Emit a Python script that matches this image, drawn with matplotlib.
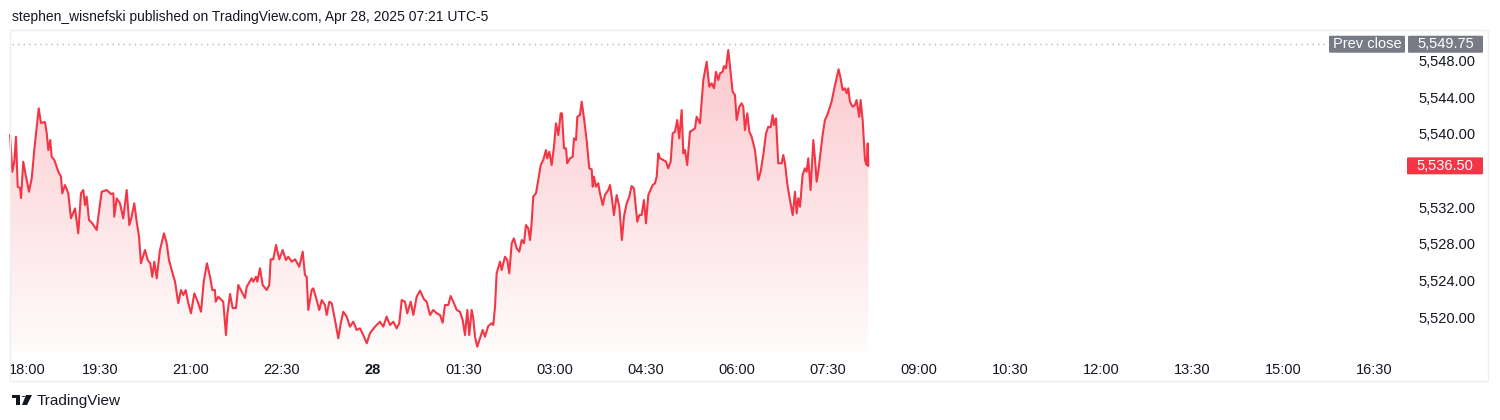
import matplotlib.pyplot as plt
import numpy as np
from matplotlib.patches import Rectangle, Polygon, Circle, FancyBboxPatch

# minutes after 18:00 (Apr 27) and traded price
minutes = [
    1.0, 3.3, 5.2, 6.9, 8.6, 10.9, 11.9, 14.1, 16.5, 19.8, 22.5, 25.0, 27.4, 29.4, 31.6, 35.6,
    37.3, 38.9, 40.8, 42.2, 44.8, 48.8, 51.4, 52.7, 55.4, 58.6, 61.3, 65.3, 68.5, 71.2, 73.5, 75.2,
    76.8, 79.1, 82.4, 86.7, 89.0, 91.7, 96.6, 100.9, 103.2, 104.1, 106.5, 109.8, 113.0, 116.4, 119.0, 121.3,
    123.9, 126.3, 128.6, 130.5, 134.5, 137.2, 139.7, 141.7, 143.7, 146.1, 149.3, 153.3, 156.0, 158.2, 160.9, 164.2,
    167.4, 170.1, 172.4, 174.8, 177.3, 180.0, 183.3, 186.6, 189.9, 192.6, 195.8, 198.8, 201.1, 203.7, 204.4, 207.0,
    211.9, 214.6, 215.9, 218.6, 221.2, 224.5, 226.8, 230.1, 233.4, 235.1, 240.0, 241.6, 244.3, 245.6, 248.2, 250.9,
    254.9, 257.4, 258.8, 261.4, 264.1, 267.3, 270.7, 273.9, 276.2, 279.6, 282.9, 287.1, 290.5, 292.7, 294.4, 296.0,
    299.4, 301.0, 304.3, 306.9, 309.3, 312.5, 314.2, 316.8, 319.2, 322.4, 325.7, 328.1, 330.6, 334.0, 337.2, 340.5,
    343.9, 347.1, 350.4, 353.8, 357.0, 362.0, 366.9, 370.2, 373.5, 376.8, 380.1, 383.4, 386.0, 388.4, 391.6, 393.9,
    397.3, 399.9, 403.2, 406.5, 410.4, 413.1, 416.4, 419.6, 423.0, 426.3, 428.9, 431.2, 434.5, 436.8, 439.4, 442.8,
    446.0, 448.7, 451.0, 453.3, 455.2, 457.6, 459.2, 460.9, 463.1, 465.8, 468.5, 470.8, 474.0, 477.4, 479.0, 480.7,
    482.3, 485.6, 487.3, 490.5, 492.8, 494.8, 497.2, 499.4, 502.1, 504.7, 507.1, 509.3, 511.3, 513.6, 515.3, 516.9,
    518.5, 521.2, 523.5, 525.9, 528.4, 531.1, 532.4, 534.4, 536.7, 539.0, 541.0, 543.3, 545.6, 546.9, 548.9, 550.9,
    552.1, 554.8, 557.5, 558.8, 560.8, 562.1, 564.7, 566.4, 568.7, 571.3, 573.9, 576.3, 577.3, 578.6, 580.5, 582.8,
    584.5, 587.2, 589.4, 592.7, 594.4, 596.1, 598.3, 601.0, 603.6, 606.2, 608.2, 610.9, 613.5, 615.8, 618.1, 621.4,
    623.4, 625.7, 628.0, 630.0, 632.3, 636.6, 638.9, 640.6, 642.2, 643.8, 647.1, 649.8, 652.0, 654.4, 656.4, 658.7,
    660.9, 662.9, 665.3, 666.9, 668.6, 670.8, 673.5, 676.2, 678.5, 680.1, 683.4, 686.7, 690.0, 692.6, 695.0, 697.3,
    699.2, 701.5, 703.2, 705.8, 707.1, 709.1, 711.4, 713.1, 715.7, 718.0, 719.7, 722.3, 724.6, 726.2, 727.9, 730.2,
    732.2, 734.5, 737.8, 741.1, 743.4, 746.0, 748.7, 751.0, 753.3, 755.3, 756.6, 758.6, 760.8, 764.2, 765.8, 767.5,
    769.7, 772.4, 775.1, 777.4, 779.0, 780.6, 782.3, 784.9, 787.2, 788.9, 790.5, 792.8, 795.5, 797.1, 798.8, 800.4,
    802.8, 804.7, 807.0, 809.3, 811.9, 813.6, 815.9, 818.5, 820.5, 822.5, 824.5, 826.8, 828.5, 830.1, 831.7, 834.4,
    836.7, 838.3, 840.9, 842.3, 844.3, 846.6, 848.3, 849.3, 849.9,
]
prices = [
    5539.86, 5535.86, 5536.95, 5539.67, 5534.23, 5534.09, 5533.00, 5536.95, 5535.50, 5533.68, 5535.17, 5538.22, 5540.76, 5542.77, 5541.17, 5541.27,
    5540.08, 5538.22, 5539.31, 5537.49, 5537.14, 5535.86, 5535.32, 5533.51, 5534.41, 5533.51, 5530.78, 5531.87, 5529.15, 5533.51, 5533.87, 5532.23,
    5533.14, 5530.60, 5530.24, 5529.51, 5531.50, 5533.68, 5533.87, 5533.43, 5533.51, 5530.96, 5532.96, 5532.42, 5530.78, 5533.87, 5530.05, 5530.96,
    5532.42, 5530.41, 5528.78, 5525.88, 5527.33, 5526.24, 5525.88, 5524.42, 5526.06, 5524.25, 5527.33, 5529.15, 5528.06, 5526.24, 5525.15, 5523.88,
    5521.53, 5522.97, 5522.43, 5522.97, 5521.53, 5520.44, 5522.61, 5521.70, 5520.61, 5523.88, 5525.88, 5524.42, 5522.97, 5522.97, 5521.70, 5522.24,
    5521.70, 5518.07, 5520.25, 5522.54, 5521.01, 5521.01, 5523.52, 5522.79, 5522.10, 5523.33, 5524.25, 5523.88, 5524.42, 5523.88, 5525.34, 5523.52,
    5522.97, 5523.52, 5526.32, 5526.32, 5527.88, 5526.32, 5527.33, 5526.24, 5526.60, 5526.06, 5526.32, 5525.51, 5527.15, 5524.61, 5524.42, 5520.80,
    5522.97, 5523.16, 5521.88, 5520.80, 5521.88, 5521.34, 5520.25, 5521.70, 5521.53, 5519.71, 5517.71, 5519.35, 5520.61, 5520.07, 5518.98, 5519.52,
    5518.62, 5518.80, 5518.07, 5517.17, 5518.26, 5518.98, 5519.52, 5518.98, 5520.07, 5519.16, 5519.52, 5518.80, 5519.35, 5521.88, 5521.70, 5520.44,
    5521.70, 5520.25, 5522.24, 5522.90, 5521.96, 5521.70, 5520.25, 5520.80, 5520.44, 5520.25, 5519.41, 5521.34, 5521.34, 5522.32, 5521.70, 5520.80,
    5520.61, 5519.71, 5518.07, 5520.80, 5518.07, 5520.80, 5519.89, 5517.89, 5516.80, 5517.71, 5518.62, 5517.89, 5519.05, 5519.35, 5519.16, 5521.15,
    5524.79, 5526.06, 5525.15, 5526.60, 5526.24, 5524.79, 5528.06, 5528.61, 5527.52, 5527.15, 5528.42, 5528.06, 5530.05, 5529.69, 5528.42, 5530.24,
    5533.14, 5533.51, 5534.96, 5536.59, 5537.14, 5538.22, 5537.32, 5538.04, 5536.59, 5538.58, 5541.13, 5539.86, 5542.22, 5542.22, 5538.41, 5538.41,
    5536.78, 5537.32, 5537.49, 5539.50, 5539.31, 5541.85, 5542.04, 5543.49, 5541.68, 5539.31, 5536.23, 5536.12, 5534.23, 5535.32, 5534.23, 5534.60,
    5533.51, 5532.23, 5533.32, 5533.87, 5534.41, 5533.14, 5531.14, 5533.32, 5532.05, 5528.42, 5530.96, 5532.42, 5533.14, 5534.30, 5534.05, 5530.41,
    5531.14, 5531.14, 5532.78, 5530.24, 5533.32, 5534.41, 5534.60, 5535.32, 5537.86, 5537.32, 5537.14, 5536.95, 5536.23, 5536.95, 5540.04, 5540.22,
    5541.49, 5539.50, 5542.58, 5537.86, 5538.22, 5536.59, 5540.22, 5540.40, 5540.59, 5541.85, 5541.13, 5545.85, 5547.84, 5545.12, 5545.49, 5544.95,
    5546.75, 5545.85, 5546.58, 5546.75, 5547.37, 5547.12, 5549.12, 5547.30, 5544.58, 5544.22, 5541.49, 5542.94, 5543.31, 5542.94, 5540.40, 5542.22,
    5540.22, 5539.67, 5538.22, 5534.96, 5535.86, 5537.68, 5540.04, 5540.76, 5540.70, 5542.04, 5540.95, 5541.68, 5536.78, 5536.78, 5537.68, 5536.78,
    5534.60, 5532.78, 5531.14, 5533.68, 5531.33, 5532.96, 5532.05, 5535.50, 5536.23, 5535.86, 5537.32, 5533.87, 5539.31, 5537.32, 5534.77, 5535.86,
    5538.04, 5539.86, 5541.49, 5542.04, 5542.94, 5543.49, 5544.76, 5546.03, 5547.02, 5546.03, 5544.76, 5544.95, 5544.40, 5544.95, 5543.49, 5542.94,
    5543.13, 5543.67, 5541.85, 5543.67, 5541.49, 5537.14, 5536.59, 5538.95, 5536.50,
]
assert len(minutes) == len(prices), (len(minutes), len(prices))

prev_close = 5549.75
last_price = 5536.50
price_ticks = [5520, 5524, 5528, 5532, 5540, 5544, 5548]
time_ticks = list(range(0, 1381, 90))
time_labels = ["18:00", "19:30", "21:00", "22:30", "28", "01:30", "03:00", "04:30",
               "06:00", "07:30", "09:00", "10:30", "12:00", "13:30", "15:00", "16:30"]

W, H = 1500, 420
RED = "#F23645"
TXT = "#131722"
plt.rcParams["font.family"] = ["Liberation Sans", "DejaVu Sans"]

fig = plt.figure(figsize=(W / 100, H / 100), dpi=100)
fig.patch.set_facecolor("white")
ax = fig.add_axes([9 / W, 68 / H, 1396 / W, 322 / H])
ax.set_xlim(0, 1380.7)
ax.set_ylim(5516.22, 5551.30)
for s in ax.spines.values():
    s.set_visible(False)

t = np.array(minutes)
p = np.array(prices)
ybot = ax.get_ylim()[0]

# gradient area under the line
poly = ax.fill_between(t, p, ybot, facecolor="none", edgecolor="none")
grad = np.zeros((256, 1, 4))
grad[:, 0, 0] = 242 / 255
grad[:, 0, 1] = 54 / 255
grad[:, 0, 2] = 69 / 255
grad[:, 0, 3] = np.linspace(0.02, 0.27, 256)
img = ax.imshow(grad, extent=[t.min(), t.max(), ybot, p.max()], aspect="auto",
                origin="lower", zorder=1)
img.set_clip_path(poly.get_paths()[0], transform=ax.transData)
ax.plot(t, p, color=RED, lw=1.5, zorder=3, solid_joinstyle="round")

# previous close dotted line
ax.axhline(prev_close, xmin=3 / 1396, xmax=(1329 - 9) / 1396, color="#b2b5be",
           lw=1, linestyle=(0, (1, 3)), zorder=2)

ax.set_xticks(time_ticks)
ax.set_xticklabels(time_labels)
ax.tick_params(axis="x", length=0, pad=8, labelsize=10.5, labelcolor=TXT)
for lab in ax.get_xticklabels():
    if lab.get_text() == "28":
        lab.set_fontweight("bold")
ax.get_xticklabels()[0].set_ha("left")

ax.yaxis.tick_right()
ax.set_yticks(price_ticks)
ax.set_yticklabels([f"{v:,.2f}" for v in price_ticks])
ax.tick_params(axis="y", length=0, pad=10, labelsize=10.5, labelcolor=TXT)


def tag(val, x0, x1, text, bg):
    yc = ax.transData.transform((0, val))[1]
    h = 17
    fig.add_artist(FancyBboxPatch((x0 / W, (yc - h / 2) / H), (x1 - x0) / W, h / H,
                                  boxstyle="round,pad=0,rounding_size=0.0015",
                                  transform=fig.transFigure, facecolor=bg, edgecolor="none", zorder=5))
    fig.text((x0 + x1) / 2 / W, yc / H, text, color="white", ha="center", va="center",
             fontsize=10.5, zorder=6)


tag(prev_close, 1329, 1405, "Prev close", "#787b86")
tag(prev_close, 1408, 1483, f"{prev_close:,.2f}", "#787b86")
tag(last_price, 1407, 1483, f"{last_price:,.2f}", RED)

# pane border
fig.add_artist(Rectangle((10 / W, 1 - 381 / H), 1478 / W, 351 / H, transform=fig.transFigure,
                         fill=False, edgecolor="#eceef2", lw=1))

fig.text(12 / W, 1 - 17 / H, "stephen_wisnefski published on TradingView.com, Apr 28, 2025 07:21 UTC-5",
         ha="left", va="center", fontsize=10, color=TXT)

# TradingView logo
lk = dict(transform=fig.transFigure, facecolor="#131722", edgecolor="none")
fig.add_artist(Rectangle((12 / W, 1 - 398 / H), 8 / W, 3 / H, **lk))
fig.add_artist(Rectangle((16 / W, 1 - 405 / H), 4 / W, 10 / H, **lk))
fig.add_artist(Circle((23.5 / W, 1 - 396.5 / H), 1.8 / W, **lk))
fig.add_artist(Polygon([(26 / W, 1 - 395 / H), (32 / W, 1 - 395 / H), (27 / W, 1 - 405 / H),
                        (22 / W, 1 - 405 / H)], closed=True, **lk))
fig.text(37 / W, 1 - 401 / H, "TradingView", ha="left", va="center", fontsize=11, color=TXT)

fig.savefig("out.png", dpi=100, facecolor="white")
